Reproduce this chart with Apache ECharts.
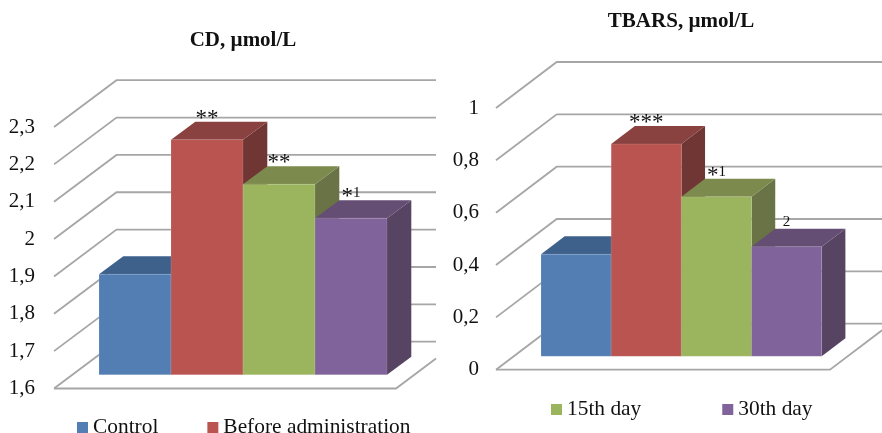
<!DOCTYPE html>
<html lang="en">
  <head>
    <meta charset="UTF-8" />
    <title>CD and TBARS</title>
    <script src="https://cdn.jsdelivr.net/npm/echarts@6/dist/echarts.min.js"></script>
    <style>
      html, body { margin: 0; padding: 0; background: #fff; }
    </style>
  </head>
  <body>
    <div id="main" style="width: 882px; height: 433px"></div>
    <script type="text/javascript">
      const groups = ["Control", "Before administration", "15th day", "30th day"];
      const cdValues = [1.869, 2.229, 2.11, 2.019];
      const tbarsValues = [0.39, 0.811, 0.61, 0.419];
      const cdMarks = ["", "**", "**", "*1"];
      const tbarsMarks = ["", "***", "*1", "2"];
      const cdTicks = [1.6, 1.7, 1.8, 1.9, 2, 2.1, 2.2, 2.3];
      const tbarsTicks = [0, 0.2, 0.4, 0.6, 0.8, 1];

      // front, top and side colours of each box
      const front = ["#537eb4", "#b95450", "#9bb55e", "#80639a"];
      const top3d = ["#3e618c", "#8a4240", "#7c8a4e", "#644e74"];
      const side = ["#3a5a82", "#6f3634", "#6a7345", "#574362"];
      const serif = "Liberation Serif";

      // projection of each panel, front plane to back wall
      const cdView = { wallDx: 62.5, wallDy: 46.8, boxDx: 24.3, boxDy: 18, shiftX: 18.5, shiftY: 13.8, axisX: 54, floorEnd: 396, wallEnd: 436 };
      const tbarsView = { wallDx: 60.7, wallDy: 46, boxDx: 23.7, boxDy: 18, shiftX: 17.7, shiftY: 13.4, axisX: 496, floorEnd: 830, wallEnd: 882 };

      function polyline(points) {
        return {
          type: "polyline",
          shape: { points: points },
          style: { fill: null, stroke: "#a6a6a6", lineWidth: 1.8 },
        };
      }

      function wallSeries(ticks, view, axisIndex) {
        return {
          type: "custom",
          xAxisIndex: axisIndex,
          yAxisIndex: axisIndex,
          silent: true,
          z: 1,
          data: ticks.map((t) => [0, t]),
          encode: { x: 0, y: 1 },
          renderItem: (params, api) => {
            const y = api.coord([0, api.value(1)])[1];
            const children = [
              polyline([
                [view.axisX, y],
                [view.axisX + view.wallDx, y - view.wallDy],
                [view.wallEnd, y - view.wallDy],
              ]),
            ];
            if (params.dataIndex === 0) {
              // front edge of the floor, cut off by the panel on the right
              const run = view.wallEnd - view.floorEnd;
              children.push(
                polyline([
                  [view.axisX, y],
                  [view.floorEnd, y],
                  [view.wallEnd, y - (run * view.wallDy) / view.wallDx],
                ])
              );
            }
            return { type: "group", children: children };
          },
        };
      }

      function markText(mark) {
        return mark.replace(/\*+/, (s) => "{s|" + s + "}").replace(/\d/, (d) => "{d|" + d + "}");
      }

      function boxSeries(index, values, marks, view, axisIndex, min) {
        return {
          name: groups[index],
          type: "custom",
          xAxisIndex: axisIndex,
          yAxisIndex: axisIndex,
          silent: true,
          z: 2 + index,
          itemStyle: { color: front[index] },
          data: [[index, values[index]]],
          encode: { x: 0, y: 1 },
          renderItem: (params, api) => {
            const w = api.size([1, 0])[0];
            const topPt = api.coord([index, api.value(1)]);
            const basePt = api.coord([index, min]);
            const x0 = topPt[0] - w / 2 + view.shiftX;
            const x1 = x0 + w;
            const y0 = topPt[1] - view.shiftY;
            const y1 = basePt[1] - view.shiftY;
            const dx = view.boxDx;
            const dy = view.boxDy;
            const edge = { stroke: "rgba(255,255,255,0.25)", lineWidth: 0.5 };
            const children = [
              {
                type: "polygon",
                shape: { points: [[x1, y0], [x1 + dx, y0 - dy], [x1 + dx, y1 - dy], [x1, y1]] },
                style: { fill: side[index] },
              },
              {
                type: "polygon",
                shape: { points: [[x0, y0], [x0 + dx, y0 - dy], [x1 + dx, y0 - dy], [x1, y0]] },
                style: { fill: top3d[index] },
              },
              {
                type: "rect",
                shape: { x: x0, y: y0, width: w, height: y1 - y0 },
                style: Object.assign({ fill: front[index] }, edge),
              },
            ];
            if (marks[index]) {
              children.push({
                type: "text",
                x: (x0 + x1) / 2,
                y: y0 - 25,
                style: {
                  text: markText(marks[index]),
                  align: "center",
                  verticalAlign: "middle",
                  rich: {
                    s: { fontFamily: serif, fontSize: 23, fill: "#111", padding: [8, 0, 0, 0] },
                    d: { fontFamily: serif, fontSize: 15, fill: "#111" },
                  },
                },
              });
            }
            return { type: "group", children: children };
          },
        };
      }

      const labelFormat = (v) => String(v).replace(".", ",");

      function valueAxis(gridIndex, min, max, interval, margin) {
        return {
          type: "value",
          gridIndex: gridIndex,
          min: min,
          max: max,
          interval: interval,
          axisLine: { show: false },
          axisTick: { show: false },
          splitLine: { show: false },
          axisLabel: {
            margin: margin,
            formatter: labelFormat,
            fontFamily: serif,
            fontSize: 21,
            color: "#111",
          },
        };
      }

      function categoryAxis(gridIndex) {
        return {
          type: "category",
          gridIndex: gridIndex,
          data: groups,
          axisLine: { show: false },
          axisTick: { show: false },
          axisLabel: { show: false },
        };
      }

      function titleAt(text, x, y) {
        return {
          text: text,
          left: x,
          top: y,
          textAlign: "center",
          textStyle: { fontFamily: serif, fontSize: 21, fontWeight: "bold", color: "#111" },
        };
      }

      function legendAt(names, x, y, gap) {
        return {
          data: names,
          left: x,
          top: y,
          itemWidth: 11,
          itemHeight: 11,
          itemGap: gap,
          icon: "rect",
          selectedMode: false,
          padding: 0,
          textStyle: { fontFamily: serif, fontSize: 21.4, color: "#111" },
        };
      }

      let myChart = echarts.init(document.getElementById("main"));
      let options = {
        animation: false,
        backgroundColor: "#fff",
        title: [titleAt("CD, µmol/L", 238, 25), titleAt("TBARS, µmol/L", 676, 6)],
        legend: [
          legendAt(groups.slice(0, 2), 77, 417, 49),
          legendAt(groups.slice(2), 551, 399, 81),
        ],
        grid: [
          { left: 80.5, top: 127, width: 288, height: 261.5 },
          { left: 523.3, top: 108, width: 280.7, height: 261.7 },
        ],
        xAxis: [categoryAxis(0), categoryAxis(1)],
        yAxis: [valueAxis(0, 1.6, 2.3, 0.1, 45.5), valueAxis(1, 0, 1, 0.2, 44.3)],
        series: [
          wallSeries(cdTicks, cdView, 0),
          wallSeries(tbarsTicks, tbarsView, 1),
          ...groups.map((g, i) => boxSeries(i, cdValues, cdMarks, cdView, 0, 1.6)),
          ...groups.map((g, i) => boxSeries(i, tbarsValues, tbarsMarks, tbarsView, 1, 0)),
        ],
      };
      myChart.setOption(options);
    </script>
  </body>
</html>
